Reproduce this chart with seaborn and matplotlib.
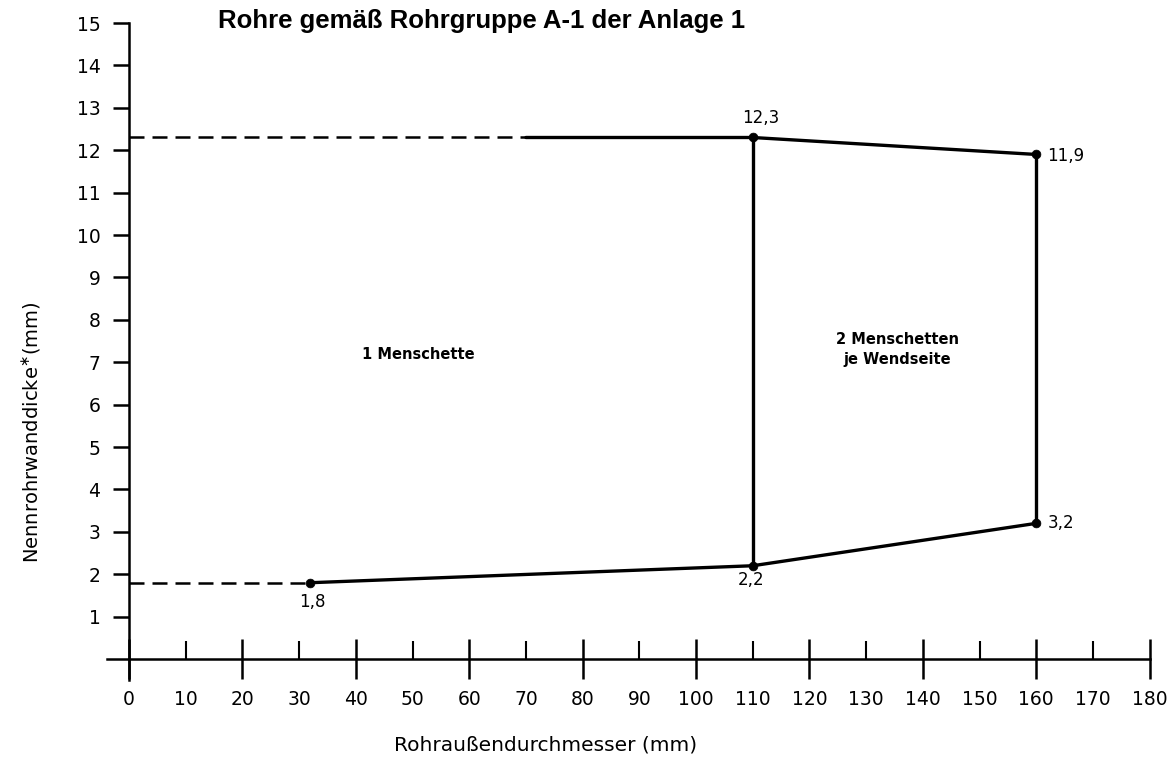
import matplotlib
matplotlib.use("Agg")

import pandas as pd
import matplotlib.pyplot as plt
import seaborn as sns

# Umriss der beiden Bereiche (x: Rohraußendurchmesser, y: Nennrohrwanddicke)
seg_ids = ["unten", "unten", "unten", "rechts", "rechts",
           "oben", "oben", "oben", "mitte", "mitte"]
seg_x = [32, 110, 160, 160, 160, 70, 110, 160, 110, 110]
seg_y = [1.8, 2.2, 3.2, 3.2, 11.9, 12.3, 12.3, 11.9, 2.2, 12.3]

# gestrichelte Hilfslinien bis zur y-Achse
dash_ids = ["d1", "d1", "d2", "d2"]
dash_x = [0, 32, 0, 70]
dash_y = [1.8, 1.8, 12.3, 12.3]

# Eckpunkte mit Beschriftung
punkt_x = [32, 110, 160, 160, 110]
punkt_y = [1.8, 2.2, 3.2, 11.9, 12.3]
punkt_labels = ["1,8", "2,2", "3,2", "11,9", "12,3"]

x_major = list(range(0, 181, 20))
x_minor = list(range(10, 180, 20))
y_ticks = list(range(1, 16))

bereich_texte = ["1 Menschette", "2 Menschetten\nje Wendseite"]
bereich_x = [51, 135.5]
bereich_y = [7.19, 7.3]

titel = "Rohre gemäß Rohrgruppe A-1 der Anlage 1"
x_titel = "Rohraußendurchmesser (mm)"
y_titel = r"Nennrohrwanddicke$^{\ast}$(mm)"


sns.set_style("white")
plt.rcParams["font.family"] = ["DejaVu Sans"]
plt.rcParams["text.color"] = "black"
plt.rcParams["axes.labelcolor"] = "black"

fig = plt.figure(figsize=(11.72, 7.57), dpi=100)
ax = fig.add_axes([0.0859, 0.0622, 0.9095, 0.9186])

df_lines = pd.DataFrame({"seg": seg_ids, "x": seg_x, "y": seg_y})
sns.lineplot(data=df_lines, x="x", y="y", units="seg", estimator=None,
             sort=False, color="black", lw=2.4, ax=ax)

df_dash = pd.DataFrame({"seg": dash_ids, "x": dash_x, "y": dash_y})
n_before = len(ax.lines)
sns.lineplot(data=df_dash, x="x", y="y", units="seg", estimator=None,
             sort=False, color="black", lw=1.8, ax=ax)
for line in ax.lines[n_before:]:
    line.set_linestyle((0, (6, 3.2)))

sns.scatterplot(x=punkt_x, y=punkt_y, color="black", s=40,
                edgecolor="black", zorder=4, ax=ax)

# Beschriftung der Eckpunkte
offsets = {"1,8": (1.5, -14), "2,2": (-1, -10), "3,2": (8, 0),
           "11,9": (8, -1), "12,3": (6, 14)}
for px, py, lab in zip(punkt_x, punkt_y, punkt_labels):
    dx, dy = offsets[lab]
    ax.annotate(lab, (px, py), xytext=(dx, dy), textcoords="offset points",
                ha="left" if dx >= 8 else "center", va="center",
                fontsize=12, color="black")

for txt, tx, ty in zip(bereich_texte, bereich_x, bereich_y):
    ax.text(tx, ty, txt, ha="center", va="center", fontsize=10.5,
            fontweight="bold", linespacing=1.4, color="black")

# Achsen wie in der Zeichnung
ax.set_xlim(-5, 183)
ax.set_ylim(-1.2, 15.2)
for s in ["top", "right"]:
    ax.spines[s].set_visible(False)
ax.spines["left"].set_position(("data", 0))
ax.spines["bottom"].set_position(("data", 0))
ax.spines["left"].set_bounds(-0.5, 15)
ax.spines["bottom"].set_bounds(-3.9, 180)
for s in ["left", "bottom"]:
    ax.spines[s].set_linewidth(1.8)
    ax.spines[s].set_color("black")

ax.set_xticks(x_major)
ax.set_xticks(x_minor, minor=True)
ax.set_xticklabels([str(v) for v in x_minor], minor=True)
ax.set_yticks(y_ticks)
ax.tick_params(axis="x", which="major", bottom=True, direction="inout",
               length=29, width=1.8, pad=8, labelsize=13.5, colors="black")
ax.tick_params(axis="x", which="minor", bottom=True, direction="in",
               length=13, width=1.5, pad=22.5, labelsize=13.5, colors="black")
ax.tick_params(axis="y", which="major", left=True, direction="out",
               length=11.5, width=1.8, pad=9, labelsize=13.5, colors="black")
ax.set_xlabel("")
ax.set_ylabel("")

fig.text(546 / 1172, 1 - 745 / 757, x_titel, ha="center", va="center",
         fontsize=14.5)
fig.text(32 / 1172, 1 - 432 / 757, y_titel, ha="center", va="center",
         rotation=90, fontsize=14)
fig.text(218 / 1172, 1 - 21 / 757, titel, ha="left", va="center",
         fontsize=18.5, fontweight="bold", family="Liberation Sans")

fig.savefig("out.png", dpi=100, facecolor="white")
